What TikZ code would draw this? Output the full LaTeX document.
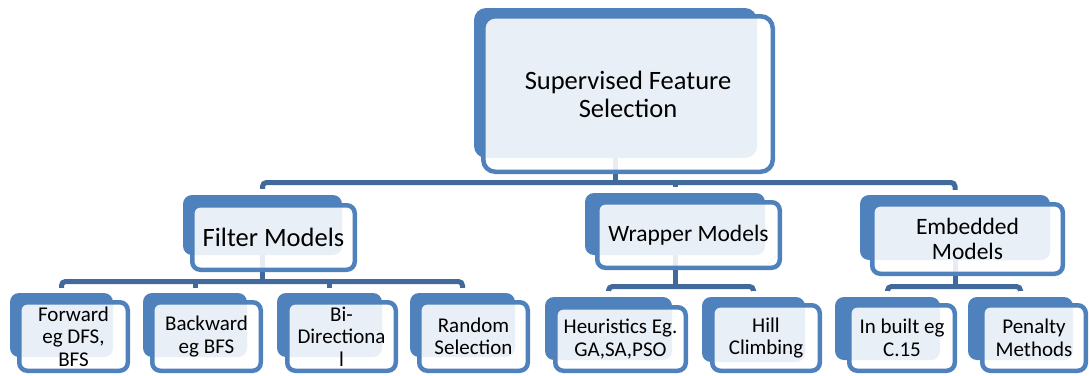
\documentclass[tikz,border=0pt]{standalone}
\usepackage{fontspec}
\setmainfont{Carlito}
\definecolor{accent}{HTML}{4F81BD}
\definecolor{linkc}{HTML}{41699C}
\pgfdeclarelayer{bg}
\pgfsetlayers{bg,main}
\tikzset{
  backbox/.style={fill=accent, draw=none, rounded corners=9pt, inner sep=0pt},
  frontbox/.style={fill=white, fill opacity=0.88, text opacity=1, draw=accent,
    line width=4.5pt, rounded corners=8pt, inner sep=0pt, align=center, text=black},
  topfont/.style={font=\fontsize{26.5pt}{28pt}\selectfont},
  midfont/.style={font=\fontsize{23.5pt}{25pt}\selectfont},
  lowfont/.style={font=\fontsize{21pt}{22.5pt}\selectfont},
  link/.style={draw=linkc, line width=5pt, rounded corners=4pt},
}
\begin{document}
\begin{tikzpicture}[x=1pt,y=1pt]
\useasboundingbox (0,0) rectangle (1090,-375);

% root
\node[backbox, rounded corners=12pt, minimum width=283, minimum height=150] (top-b) at (615.5,-83) {};
\node[frontbox, rounded corners=12pt, topfont, minimum width=289.5, minimum height=155.5] (top) at (628,-94) {Supervised Feature\\Selection};

% second level
\node[backbox, minimum width=159, minimum height=60] (filt-b) at (262.5,-225) {};
\node[frontbox, topfont, minimum width=162.5, minimum height=64.5] (filt) at (273.5,-237.5) {Filter Models};

\node[backbox, minimum width=180, minimum height=62] (wrap-b) at (675,-224) {};
\node[frontbox, midfont, minimum width=182.5, minimum height=65.5] (wrap) at (688.5,-235) {Wrapper Models};

\node[backbox, minimum width=190, minimum height=65] (emb-b) at (955,-227.5) {};
\node[frontbox, midfont, minimum width=190.5, minimum height=69.5] (emb) at (967.5,-239) {Embedded\\Models};

% leaves under the filter models
\node[backbox, minimum width=103, minimum height=64] (fwd-b) at (61.5,-325) {};
\node[frontbox, lowfont, minimum width=108.5, minimum height=68.5] (fwd) at (73.5,-336.5) {Forward\\eg DFS,\\BFS};

\node[backbox, minimum width=104, minimum height=64] (bwd-b) at (195,-325) {};
\node[frontbox, lowfont, minimum width=108.5, minimum height=68.5] (bwd) at (206.5,-336.5) {Backward\\eg BFS};

\node[backbox, minimum width=105, minimum height=64] (bid-b) at (329.5,-325) {};
\node[frontbox, lowfont, minimum width=108.5, minimum height=68.5] (bid) at (341.5,-336.5) {Bi-\\Directiona\\l};

\node[backbox, minimum width=105, minimum height=64] (rnd-b) at (462.5,-325) {};
\node[frontbox, lowfont, minimum width=108.5, minimum height=68.5] (rnd) at (473.5,-336.5) {Random\\Selection};

% leaves under the wrapper models
\node[backbox, minimum width=127, minimum height=63] (heu-b) at (608.5,-328.5) {};
\node[frontbox, lowfont, minimum width=130.5, minimum height=63.5] (heu) at (620.5,-339) {Heuristics Eg.\\GA,SA,PSO};

\node[backbox, minimum width=103, minimum height=65] (hill-b) at (753.5,-329.5) {};
\node[frontbox, lowfont, minimum width=107.5, minimum height=65.5] (hill) at (766,-338) {Hill\\Climbing};

% leaves under the embedded models
\node[backbox, minimum width=105, minimum height=63] (inb-b) at (887.5,-328.5) {};
\node[frontbox, lowfont, minimum width=105.5, minimum height=65.5] (inb) at (902,-338) {In built eg\\C.15};

\node[backbox, minimum width=105, minimum height=63] (pen-b) at (1020.5,-328.5) {};
\node[frontbox, lowfont, minimum width=103.5, minimum height=65.5] (pen) at (1034,-338) {Penalty\\Methods};

% bus lines of each level
\coordinate (bus1) at (0,-182.5);
\coordinate (bus2) at (0,-281.5);
\coordinate (bus3) at (0,-286.5);

\begin{pgfonlayer}{bg}
  % root to second level
  \draw[link] (top-b.center) -- (top-b.center |- bus1);
  \draw[link] ([yshift=6pt]filt-b.north) |- (bus1 -| emb-b.north) -- ([yshift=5pt]emb-b.north);
  \draw[link] (wrap-b.north |- bus1) -- ([yshift=6pt]wrap-b.north);
  % filter models to its leaves
  \draw[link] (filt-b.center) -- (filt-b.center |- bus2);
  \draw[link] ([yshift=5pt]fwd-b.north) |- (bus2 -| rnd-b.north) -- ([yshift=5pt]rnd-b.north);
  \draw[link] (bwd-b.north |- bus2) -- ([yshift=5pt]bwd-b.north);
  \draw[link] (bid-b.north |- bus2) -- ([yshift=5pt]bid-b.north);
  % wrapper models to its leaves
  \draw[link] (wrap-b.center) -- (wrap-b.center |- bus3);
  \draw[link] ([yshift=6pt]heu-b.north) |- (bus3 -| hill-b.north) -- ([yshift=6pt]hill-b.north);
  % embedded models to its leaves
  \draw[link] (emb-b.center) -- (emb-b.center |- bus3);
  \draw[link] ([yshift=6pt]inb-b.north) |- (bus3 -| pen-b.north) -- ([yshift=6pt]pen-b.north);
\end{pgfonlayer}
\end{tikzpicture}
\end{document}
